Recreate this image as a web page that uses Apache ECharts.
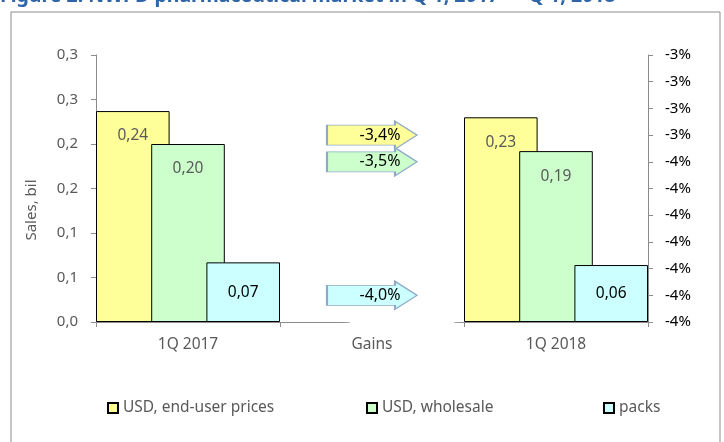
<!DOCTYPE html>
<html>
<head>
<meta charset="utf-8">
<script src="https://cdn.jsdelivr.net/npm/echarts@6/dist/echarts.min.js"></script>
<style>
  html, body { margin: 0; padding: 0; background: #fff; }
  #chart { width: 724px; height: 442px; }
</style>
</head>
<body>
<div id="chart"></div>
<script>
// categories on the x axis
const categories = ["1Q 2017", "Gains", "1Q 2018"];
// sales, bil (nothing in the "Gains" slot)
const endUserPrices = [0.237, null, 0.23];
const wholesale = [0.2, null, 0.192];
const packs = [0.067, null, 0.064];
// gains 1Q 2018 vs 1Q 2017, %
const gains = [-3.4, -3.5, -4.0];
const seriesNames = ["USD, end-user prices", "USD, wholesale", "packs"];

const fills = ["#FFFF99", "#CCFFCC", "#CCFFFF"];
const font = "'Noto Sans', sans-serif";
const gray = "#595959";
const axisGray = "#8c8c8c";

// excel-like rounding, half away from zero
const fmtLeft = (v) => (Math.round(v * 10 + 1e-9) / 10).toFixed(1).replace(".", ",");
const fmtRight = (v) => Math.sign(v) * Math.floor(Math.abs(v) + 0.5 + 1e-9) + "%";
const fmtBar = (p) => p.value.toFixed(2).replace(".", ",");

function barSeries(name, values, color, labelPos, labelColor) {
  return {
    name: name,
    type: "bar",
    data: values.map((v) => (v === null ? "-" : v)),
    barCategoryGap: "0%",
    barGap: "-25%",
    itemStyle: { color: color, borderColor: "#000", borderWidth: 1 },
    label: {
      show: true,
      position: labelPos,
      distance: 17,
      formatter: fmtBar,
      color: labelColor,
      fontFamily: font,
      fontSize: 15.5,
    },
  };
}

const chart = echarts.init(document.getElementById("chart"), null, { renderer: "canvas" });

chart.setOption({
  animation: false,
  backgroundColor: "#fff",
  textStyle: { fontFamily: font },
  grid: { left: 96, right: 76, top: 55, bottom: 120, containLabel: false },
  legend: seriesNames.map((name, i) => ({
    data: [name],
    left: [102, 361, 598][i],
    top: 395,
    itemWidth: 10,
    itemHeight: 10,
    icon: "rect",
    textStyle: { color: gray, fontSize: 15.5, fontFamily: font },
  })),
  xAxis: {
    type: "category",
    data: categories,
    axisLine: { lineStyle: { color: axisGray } },
    axisTick: { show: true, length: 5, lineStyle: { color: axisGray } },
    axisLabel: { color: gray, fontSize: 15.5, margin: 15 },
  },
  yAxis: [
    {
      type: "value",
      position: "left",
      min: 0,
      max: 0.3,
      interval: 0.05,
      splitLine: { show: false },
      axisLine: { show: true, lineStyle: { color: axisGray } },
      axisTick: { show: true, length: 5, lineStyle: { color: axisGray } },
      axisLabel: { color: gray, fontSize: 15, margin: 18, formatter: fmtLeft },
    },
    {
      type: "value",
      position: "right",
      min: -4.1,
      max: -3.1,
      interval: 0.1,
      splitLine: { show: false },
      axisLine: { show: true, lineStyle: { color: axisGray } },
      axisTick: { show: true, length: 5, lineStyle: { color: axisGray } },
      axisLabel: { color: "#000", fontSize: 15, margin: 17, formatter: fmtRight },
    },
  ],
  series: [
    barSeries(seriesNames[0], endUserPrices, fills[0], "insideTop", gray),
    barSeries(seriesNames[1], wholesale, fills[1], "insideTop", gray),
    barSeries(seriesNames[2], packs, fills[2], "inside", "#000"),
    {
      name: "Gains",
      type: "scatter",
      yAxisIndex: 1,
      symbol: "path://M0,4 L68,4 L68,0 L90,14 L68,28 L68,24 L0,24 Z",
      symbolSize: [90, 28],
      data: gains.map((v, i) => ({
        value: ["Gains", v],
        itemStyle: { color: fills[i] },
      })),
      itemStyle: { borderColor: "#8EA9C8", borderWidth: 1.2, opacity: 1 },
      label: {
        show: true,
        position: "inside",
        offset: [8, 0],
        color: "#000",
        fontSize: 16,
        fontFamily: font,
        formatter: (p) => p.value[1].toFixed(1).replace(".", ",") + "%",
      },
      z: 5,
    },
  ],
  graphic: [
    {
      type: "rect",
      shape: { x: 11, y: 12, width: 709, height: 440 },
      style: { fill: "none", stroke: "#8c8c8c", lineWidth: 1 },
      silent: true,
    },
    {
      type: "text",
      x: 0,
      y: -4,
      style: {
        text: "Figure 2. NWPD pharmaceutical market in Q 1, 2017 \u2014 Q 1, 2018",
        fill: "#2E64A8",
        font: "bold 19.5px 'Noto Sans', sans-serif",
        textVerticalAlign: "middle",
      },
    },
    {
      type: "text",
      x: 32,
      y: 210,
      rotation: Math.PI / 2,
      style: {
        text: "Sales, bil",
        fill: gray,
        font: "15px 'Noto Sans', sans-serif",
        textAlign: "center",
        textVerticalAlign: "middle",
      },
    },
    {
      // soft white reflection under the arrows that hides the axis line
      type: "rect",
      shape: { x: 350, y: 317, width: 104, height: 11 },
      style: { fill: "#fff", shadowBlur: 10, shadowColor: "#fff" },
      z: 100,
      silent: true,
    },
  ],
});
</script>
</body>
</html>
